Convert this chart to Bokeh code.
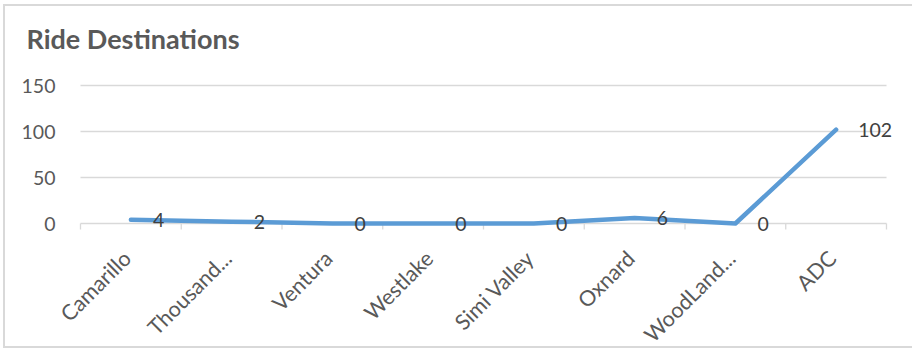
import math
from bokeh.plotting import figure
from bokeh.models import Range1d, FixedTicker, ColumnDataSource, LabelSet
from bokeh.embed import file_html
from bokeh.resources import INLINE
from bokeh.core.properties import value

categories = ["Camarillo", "Thousand...", "Ventura", "Westlake", "Simi Valley",
              "Oxnard", "WoodLand...", "ADC"]
rides = [4, 2, 0, 0, 0, 6, 0, 102]
y_ticks = [0, 50, 100, 150]

FONT = "Lato"
TXT = "#595959"
GRID = "#D9D9D9"

# layout (pixels, canvas coordinates)
W, H = 909, 344
CAT_PX = 100.75          # width of one category slot
FRAME_LEFT = 51          # canvas x of the frame's left edge
FRAME_TOP = 60           # canvas y of the frame's top edge
PLOT_LEFT = 75           # canvas x of first category boundary
PLOT_TOP = 79            # canvas y of top gridline
ZERO_Y = 217             # canvas y of the zero line
PX_PER_UNIT = (ZERO_Y - PLOT_TOP) / y_ticks[-1]
TICK_LEN = 6

n = len(categories)
x_centers = [i + 0.5 for i in range(n)]
x_bounds = list(range(n + 1))
src = ColumnDataSource(dict(x=x_centers, y=rides, label=[str(v) for v in rides]))
cat_src = ColumnDataSource(dict(x=x_centers, y=[0] * n, name=categories))

x_start = -(PLOT_LEFT - FRAME_LEFT) / CAT_PX
x_end = (W - PLOT_LEFT) / CAT_PX
y_start = -(H - ZERO_Y) / PX_PER_UNIT
y_end = y_ticks[-1] + (PLOT_TOP - FRAME_TOP) / PX_PER_UNIT

p = figure(width=W, height=H, output_backend="svg", toolbar_location=None,
           x_range=Range1d(x_start, x_end), y_range=Range1d(y_start, y_end),
           min_border_left=FRAME_LEFT, min_border_right=0, min_border_top=FRAME_TOP,
           min_border_bottom=0,
           background_fill_color="white", border_fill_color="white")
p.outline_line_color = None
p.styles = {"margin-left": "3px", "margin-top": "4px",
            "border-left": "2px solid #D9D9D9", "border-top": "2px solid #D9D9D9",
            "border-bottom": "2px solid #D9D9D9"}

# title
p.title.text = "Ride Destinations"
p.title.align = "left"
p.title.offset = -30
p.title.standoff = 24
p.title.text_font = FONT
p.title.text_font_style = "bold"
p.title.text_font_size = "27px"
p.title.text_color = TXT

# y axis
p.yaxis.ticker = FixedTicker(ticks=y_ticks)
p.yaxis.axis_line_color = None
p.yaxis.major_tick_line_color = None
p.yaxis.minor_tick_line_color = None
p.yaxis.major_tick_out = 0
p.yaxis.major_tick_in = 0
p.yaxis.major_label_standoff = 1
p.yaxis.major_label_text_font = FONT
p.yaxis.major_label_text_font_size = "19.5px"
p.yaxis.major_label_text_color = TXT

p.xaxis.visible = False
p.xgrid.grid_line_color = None
p.ygrid.grid_line_color = None

# gridlines across the category span (the zero one doubles as the axis line)
p.segment(x0=[0] * len(y_ticks), x1=[n] * len(y_ticks), y0=y_ticks, y1=y_ticks,
          line_color=GRID, line_width=1.3)
# category boundary tick marks under the zero line
p.segment(x0=x_bounds, x1=x_bounds, y0=[0] * len(x_bounds),
          y1=[-TICK_LEN / PX_PER_UNIT] * len(x_bounds),
          line_color=GRID, line_width=1.3)

# rotated category labels
p.text(x="x", y="y", text="name", source=cat_src, angle=math.pi / 4,
       x_offset=-4, y_offset=31, text_align="right", text_baseline="middle",
       text_font=value(FONT), text_font_size="21.5px", text_color=TXT)

p.line("x", "y", source=src, line_width=4.5, line_color="#5B9BD5",
       line_cap="round", line_join="round")

labels = LabelSet(x="x", y="y", text="label", source=src, x_offset=22,
                  text_align="left", text_baseline="middle",
                  text_font=value(FONT), text_font_size="19.5px",
                  text_color="#404040")
p.add_layout(labels)

open("out.html", "w").write(file_html(p, INLINE))
